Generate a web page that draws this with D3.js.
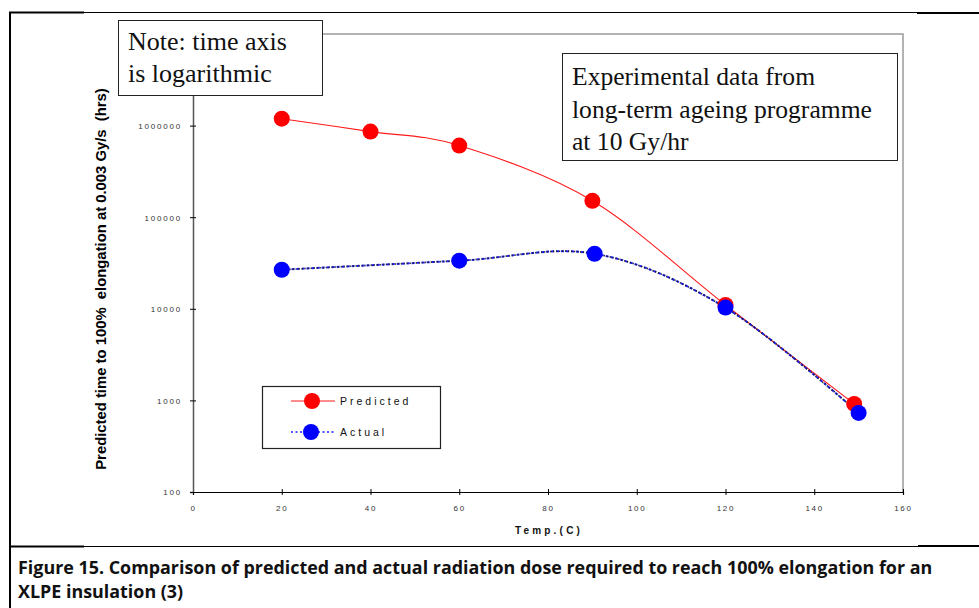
<!DOCTYPE html>
<html>
<head>
<meta charset="utf-8">
<script src="https://cdn.jsdelivr.net/npm/d3@7"></script>
<style>
  html, body { margin: 0; padding: 0; background: #fff; }
  svg { display: block; }
</style>
</head>
<body>
<svg id="fig" width="979" height="608"></svg>
<script>
// Temperatures (°C) and times (hours) for each series
const predictedTemps = [20, 40, 60, 90, 120, 149];
const predictedHours = [1190000, 860000, 605000, 151000, 11000, 916];
const actualTemps = [20, 60, 90.5, 120, 150];
const actualHours = [26700, 33500, 39900, 10300, 730];

const xTicks = [0, 20, 40, 60, 80, 100, 120, 140, 160];
const yTicks = [100, 1000, 10000, 100000, 1000000];
const yTickLabels = ["100", "1000", "10000", "100000", "1000000"];

const noteLines = ["Note: time axis", "is logarithmic"];
const infoLines = ["Experimental data from", "long-term ageing programme", "at 10 Gy/hr"];
const captionLines = [
  "Figure 15. Comparison of predicted and actual radiation dose required to reach 100% elongation for an",
  "XLPE insulation (3)"
];

const svg = d3.select("#fig");

// outer document frame
svg.append("line").attr("x1", 10).attr("x2", 979).attr("y1", 12.5).attr("y2", 12.5)
  .attr("stroke", "#000").attr("stroke-width", 1);
svg.append("line").attr("x1", 9).attr("x2", 84).attr("y1", 12.5).attr("y2", 12.5)
  .attr("stroke", "#000").attr("stroke-width", 2);
svg.append("line").attr("x1", 917).attr("x2", 979).attr("y1", 13).attr("y2", 13)
  .attr("stroke", "#000").attr("stroke-width", 2);
svg.append("line").attr("x1", 10).attr("x2", 10).attr("y1", 12).attr("y2", 608)
  .attr("stroke", "#000").attr("stroke-width", 2);
svg.append("line").attr("x1", 10).attr("x2", 979).attr("y1", 546.5).attr("y2", 546.5)
  .attr("stroke", "#000").attr("stroke-width", 1);
svg.append("line").attr("x1", 9).attr("x2", 84).attr("y1", 546.5).attr("y2", 546.5)
  .attr("stroke", "#000").attr("stroke-width", 2);
svg.append("line").attr("x1", 918).attr("x2", 979).attr("y1", 546).attr("y2", 546)
  .attr("stroke", "#000").attr("stroke-width", 2);

const x = d3.scaleLinear().domain([0, 160]).range([193, 903]);
const y = d3.scaleLog().domain([100, 10000000]).range([492, 34]);

// plot area border (top and right)
svg.append("path")
  .attr("d", `M${x(0)},${y(1e7)}H${x(160)}V${y(100)}`)
  .attr("fill", "none").attr("stroke", "#9a9a9a").attr("stroke-width", 1.5);

// axes
const tickFont = "'Liberation Sans', Arial, sans-serif";
const xAxis = svg.append("g").attr("transform", `translate(0,${y(100)})`)
  .call(d3.axisBottom(x).tickValues(xTicks).tickSize(3).tickFormat(d3.format("d")));
xAxis.select(".domain").attr("stroke", "#000").attr("stroke-width", 1.2);
xAxis.selectAll(".tick line").attr("y1", -3).attr("y2", 3).attr("stroke", "#000");
xAxis.selectAll(".tick text").attr("y", 16).attr("dy", "0.35em")
  .attr("font-family", tickFont).attr("font-size", 8).attr("fill", "#333")
  .attr("letter-spacing", 1.8);

const yAxis = svg.append("g").attr("transform", `translate(${x(0)},0)`)
  .call(d3.axisLeft(y).tickValues(yTicks).tickSize(3).tickFormat((d, i) => yTickLabels[i]));
yAxis.select(".domain").attr("stroke", "#555").attr("stroke-width", 1.5);
yAxis.selectAll(".tick line").attr("x1", -3).attr("x2", 3).attr("stroke", "#000");
yAxis.selectAll(".tick text").attr("x", -11).attr("dy", "0.35em")
  .attr("font-family", tickFont).attr("font-size", 8).attr("fill", "#333")
  .attr("letter-spacing", 1.8);

// axis titles
const yTitle = svg.append("text")
  .attr("transform", `translate(106,279) rotate(-90)`)
  .attr("text-anchor", "middle")
  .attr("font-family", tickFont).attr("font-weight", "bold").attr("font-size", 12)
  .attr("fill", "#000")
  .style("white-space", "pre")
  .text("Predicted time to 100%  elongation at 0.003 Gy/s  (hrs)");
{
  const w = yTitle.node().getComputedTextLength();
  yTitle.attr("font-size", 12 * 382 / w);
}

svg.append("text")
  .attr("x", 549).attr("y", 534).attr("text-anchor", "middle")
  .attr("font-family", tickFont).attr("font-weight", "bold").attr("font-size", 10)
  .attr("letter-spacing", 3.2).attr("fill", "#111")
  .text("Temp.(C)");

// series
const predicted = predictedTemps.map((t, i) => [x(t), y(predictedHours[i])]);
const actual = actualTemps.map((t, i) => [x(t), y(actualHours[i])]);
const curve = d3.line().curve(d3.curveCardinal.tension(0));

svg.append("path").attr("d", curve(predicted))
  .attr("fill", "none").attr("stroke", "#ff1a1a").attr("stroke-width", 1.1);

svg.append("path").attr("d", curve(actual))
  .attr("fill", "none").attr("stroke", "#1a1aff").attr("stroke-width", 2)
  .attr("stroke-dasharray", "3,2");
svg.append("path").attr("d", curve(actual))
  .attr("fill", "none").attr("stroke", "#222").attr("stroke-width", 1.6)
  .attr("stroke-dasharray", "1.2,1.8").attr("stroke-dashoffset", 1);

svg.append("g").selectAll("circle").data(predicted).join("circle")
  .attr("cx", d => d[0]).attr("cy", d => d[1]).attr("r", 8).attr("fill", "#ff0000");
svg.append("g").selectAll("circle").data(actual).join("circle")
  .attr("cx", d => d[0]).attr("cy", d => d[1]).attr("r", 8).attr("fill", "#0000ff");

// legend
const legend = svg.append("g");
legend.append("rect").attr("x", 262.5).attr("y", 386.5).attr("width", 178).attr("height", 62)
  .attr("fill", "#fff").attr("stroke", "#222").attr("stroke-width", 1.2);
legend.append("line").attr("x1", 291).attr("x2", 335).attr("y1", 401).attr("y2", 401)
  .attr("stroke", "#ff1a1a").attr("stroke-width", 1.1);
legend.append("circle").attr("cx", 312).attr("cy", 401).attr("r", 8).attr("fill", "#ff0000");
legend.append("line").attr("x1", 291).attr("x2", 335).attr("y1", 432).attr("y2", 432)
  .attr("stroke", "#1a1aff").attr("stroke-width", 1.5).attr("stroke-dasharray", "2,2.5");
legend.append("circle").attr("cx", 311).attr("cy", 432).attr("r", 8).attr("fill", "#0000ff");
legend.append("text").attr("x", 340).attr("y", 405)
  .attr("font-family", tickFont).attr("font-size", 10.5).attr("letter-spacing", 3).attr("fill", "#111")
  .text("Predicted");
legend.append("text").attr("x", 340).attr("y", 436)
  .attr("font-family", tickFont).attr("font-size", 10.5).attr("letter-spacing", 3).attr("fill", "#111")
  .text("Actual");

// annotation boxes
const serif = "'Liberation Serif', 'DejaVu Serif', serif";
svg.append("rect").attr("x", 118.5).attr("y", 20.5).attr("width", 204).attr("height", 75)
  .attr("fill", "#fff").attr("stroke", "#222").attr("stroke-width", 1);
svg.append("g").selectAll("text").data(noteLines).join("text")
  .attr("x", 128).attr("y", (d, i) => 50 + i * 32)
  .attr("font-family", serif).attr("font-size", 26).attr("fill", "#111")
  .text(d => d);

svg.append("rect").attr("x", 562.5).attr("y", 53.5).attr("width", 335).attr("height", 107)
  .attr("fill", "#fff").attr("stroke", "#222").attr("stroke-width", 1);
svg.append("g").selectAll("text").data(infoLines).join("text")
  .attr("x", 572).attr("y", (d, i) => 85 + i * 32.5)
  .attr("font-family", serif).attr("font-size", 25.6).attr("fill", "#111")
  .text(d => d);

// caption, sized so the first line spans the text column
const caption = svg.append("g")
  .attr("font-family", "'Open Sans', Lato, sans-serif").attr("font-weight", "bold")
  .attr("font-size", 16).attr("fill", "#111");
const capTexts = caption.selectAll("text").data(captionLines).join("text")
  .attr("x", 18).attr("y", (d, i) => 574 + i * 24)
  .text(d => d);
{
  const w = capTexts.nodes()[0].getComputedTextLength();
  caption.attr("font-size", 16 * 915 / w);
}
</script>
</body>
</html>
